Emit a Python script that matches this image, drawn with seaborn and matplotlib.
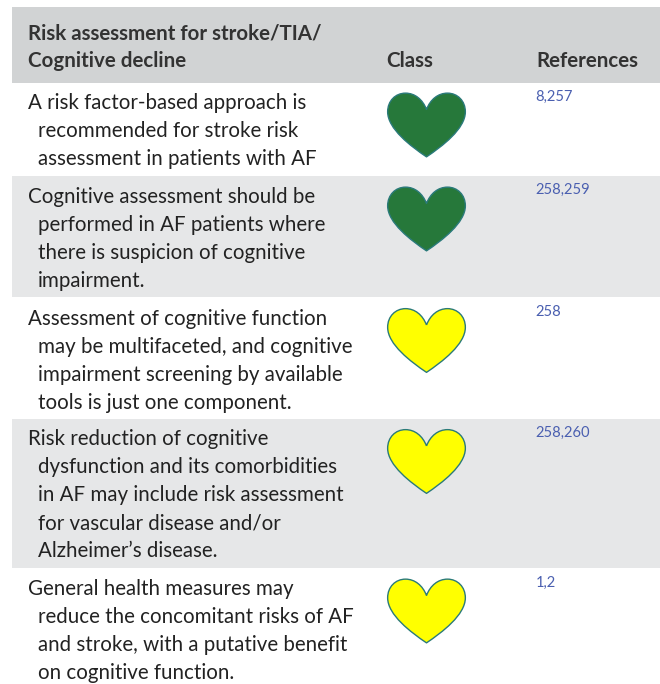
import matplotlib
matplotlib.use('Agg')
import matplotlib.pyplot as plt
import pandas as pd
import seaborn as sns
from matplotlib.path import Path

HEADER_LINES = ['Risk assessment for stroke/TIA/', 'Cognitive decline']
CLASS_TITLE = 'Class'
REF_TITLE = 'References'

ROW_TEXT = [
    ['A risk factor-based approach is', 'recommended for stroke risk',
     'assessment in patients with AF'],
    ['Cognitive assessment should be', 'performed in AF patients where',
     'there is suspicion of cognitive', 'impairment.'],
    ['Assessment of cognitive function', 'may be multifaceted, and cognitive',
     'impairment screening by available', 'tools is just one component.'],
    ['Risk reduction of cognitive', 'dysfunction and its comorbidities',
     'in AF may include risk assessment', 'for vascular disease and/or',
     'Alzheimer\u2019s disease.'],
    ['General health measures may', 'reduce the concomitant risks of AF',
     'and stroke, with a putative benefit', 'on cognitive function.'],
]
ROW_REFS = ['8,257', '258,259', '258', '258,260', '1,2']
ROW_CLASS = ['I', 'I', 'II', 'II', 'II']
CLASS_COLORS = {'I': '#26783a', 'II': '#ffff00'}

# table layout in pixels
ROW_TOPS = [83, 176, 297, 419, 568]
ROW_BOTTOMS = [176, 297, 419, 568, 684]
HEADER_BAND = (7, 83)
TEXT_BASELINES = [109, 203, 325, 445, 595]
REF_BASELINES = [100.5, 193.5, 315.5, 436.5, 586.5]
HEART_Y = [125, 219, 340.5, 461.5, 611]
LINE_H = 28

# heart outline, drawn as a custom marker
HEART = Path(
    [(0, 0.40), (0.10, 0.66), (0.30, 0.82), (0.54, 0.82),
     (0.80, 0.82), (1, 0.62), (1, 0.34),
     (1, -0.10), (0.40, -0.55), (0, -0.82),
     (-0.40, -0.55), (-1, -0.10), (-1, 0.34),
     (-1, 0.62), (-0.80, 0.82), (-0.54, 0.82),
     (-0.30, 0.82), (-0.10, 0.66), (0, 0.40)],
    [Path.MOVETO] + [Path.CURVE4] * 18,
)

sns.set_theme(style='white')
plt.rcParams['font.family'] = ['Lato', 'DejaVu Sans']

fig = plt.figure(figsize=(6.6, 6.84), dpi=100)
ax = fig.add_axes([0, 0, 1, 1])

# bands
ax.barh((HEADER_BAND[0] + HEADER_BAND[1]) / 2, 648, left=12,
        height=HEADER_BAND[1] - HEADER_BAND[0], color='#d1d3d4', linewidth=0)
for i, (top, bot) in enumerate(zip(ROW_TOPS, ROW_BOTTOMS)):
    if i % 2 == 1:
        ax.barh((top + bot) / 2, 648, left=12, height=bot - top,
                color='#e6e7e8', linewidth=0)

# hearts
df = pd.DataFrame({'x': [426.5] * len(HEART_Y), 'y': HEART_Y, 'cls': ROW_CLASS})
sns.scatterplot(data=df, x='x', y='y', hue='cls', palette=CLASS_COLORS,
                marker=HEART, s=3130, edgecolor='#2a7a7a', linewidth=1,
                legend=False, ax=ax, zorder=3)

# header text
HEAD_STYLE = dict(fontsize=14.8, fontweight='bold', color='#333333', va='baseline')
ax.text(28, 39, HEADER_LINES[0], **HEAD_STYLE)
ax.text(28, 67, HEADER_LINES[1], **HEAD_STYLE)
ax.text(386.5, 67, CLASS_TITLE, **HEAD_STYLE)
ax.text(536, 67, REF_TITLE, **HEAD_STYLE)

# body text
for base, ref_base, lines, ref in zip(TEXT_BASELINES, REF_BASELINES, ROW_TEXT, ROW_REFS):
    for j, line in enumerate(lines):
        ax.text(28 if j == 0 else 38, base + j * LINE_H, line,
                fontsize=14.8, color='#222222', va='baseline')
    ax.text(535.5, ref_base, ref, fontsize=10.6, color='#4a5fb0', va='baseline')

ax.set_xlim(0, 660)
ax.set_ylim(684, 0)
ax.axis('off')
fig.savefig('out.png', dpi=100)
